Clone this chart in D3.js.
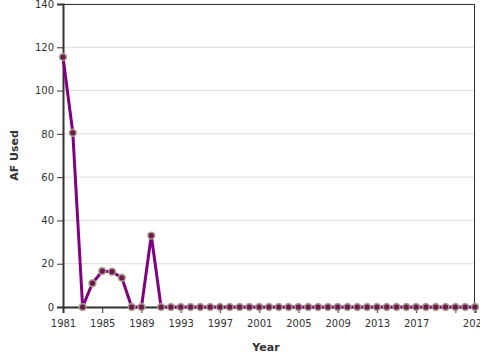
<!DOCTYPE html>
<html>
<head>
<meta charset="utf-8">
<script src="https://cdn.jsdelivr.net/npm/d3@7"></script>
<style>
  body { margin: 0; background: #fff; }
  svg { display: block; font-family: "DejaVu Sans", sans-serif; }
</style>
</head>
<body>
<svg width="480" height="360"></svg>
<script>
// data
var years = d3.range(1981, 2024);
var afUsed = [115.5, 80.5, 0, 11, 16.6, 16.3, 13.5, 0, 0, 33,
  0, 0, 0, 0, 0, 0, 0, 0, 0, 0,
  0, 0, 0, 0, 0, 0, 0, 0, 0, 0,
  0, 0, 0, 0, 0, 0, 0, 0, 0, 0,
  0, 0, 0];
var xTicks = [1981, 1985, 1989, 1993, 1997, 2001, 2005, 2009, 2013, 2017, 2021, 2023];
var xHidden = [2021];
var yTicks = [0, 20, 40, 60, 80, 100, 120, 140];

var data = years.map(function(y, i) { return {year: y, value: afUsed[i]}; });

var margin = {left: 63, top: 4, right: 5, bottom: 53},
    width = 480 - margin.left - margin.right,
    height = 360 - margin.top - margin.bottom;

var svg = d3.select("svg");
var g = svg.append("g").attr("transform", "translate(" + margin.left + "," + margin.top + ")");

var x = d3.scaleLinear().domain([1981, 2023]).range([0, width]);
var y = d3.scaleLinear().domain([0, 140]).range([height, 0]);

// grid
g.append("g")
  .selectAll("line")
  .data(yTicks)
  .enter().append("line")
    .attr("x1", 0).attr("x2", width)
    .attr("y1", function(d) { return y(d); })
    .attr("y2", function(d) { return y(d); })
    .attr("stroke", "#ddd").attr("stroke-width", 1);

// frame top/right
g.append("path")
  .attr("d", "M0,0.5H" + (width - 0.5) + "V" + height)
  .attr("fill", "none").attr("stroke", "#333").attr("stroke-width", 1);

var yAxis = g.append("g")
  .call(d3.axisLeft(y).tickValues(yTicks).tickSize(6).tickPadding(3));
yAxis.select(".domain").attr("stroke", "#333").attr("stroke-width", 2);
yAxis.selectAll(".tick line").attr("stroke", "#333");
yAxis.selectAll("text").attr("font-size", 10).attr("fill", "#333").attr("font-family", "DejaVu Sans");

var xAxis = g.append("g")
  .attr("transform", "translate(0," + height + ")")
  .call(d3.axisBottom(x).tickValues(xTicks).tickSize(6).tickPadding(7)
    .tickFormat(function(d) { return xHidden.indexOf(d) >= 0 ? "" : d; }));
xAxis.select(".domain").attr("stroke", "#333").attr("stroke-width", 2);
xAxis.selectAll(".tick line").attr("stroke", "#333");
xAxis.selectAll(".tick").filter(function(d) { return d === 2023; }).select("line").remove();
xAxis.selectAll("text").attr("font-size", 10).attr("fill", "#333").attr("font-family", "DejaVu Sans");

// line
g.append("path")
  .datum(data)
  .attr("fill", "none")
  .attr("stroke", "#800080")
  .attr("stroke-width", 3)
  .attr("stroke-linejoin", "round")
  .attr("d", d3.line()
    .x(function(d) { return x(d.year); })
    .y(function(d) { return y(d.value); }));

// points
g.append("g")
  .selectAll("circle")
  .data(data)
  .enter().append("circle")
    .attr("cx", function(d) { return x(d.year); })
    .attr("cy", function(d) { return y(d.value); })
    .attr("r", 3.4)
    .attr("fill", "#6e1850")
    .attr("stroke", "#a9a58c")
    .attr("stroke-width", 1.6)
    .attr("stroke-opacity", 0.9);

// titles
svg.append("text")
  .attr("x", margin.left + width / 2 - 3)
  .attr("y", 351)
  .attr("text-anchor", "middle")
  .attr("font-size", 11).attr("font-weight", "bold").attr("fill", "#333")
  .text("Year");

svg.append("text")
  .attr("transform", "translate(18," + (margin.top + height / 2) + ") rotate(-90)")
  .attr("text-anchor", "middle")
  .attr("font-size", 11).attr("font-weight", "bold").attr("fill", "#333")
  .text("AF Used");
</script>
</body>
</html>
